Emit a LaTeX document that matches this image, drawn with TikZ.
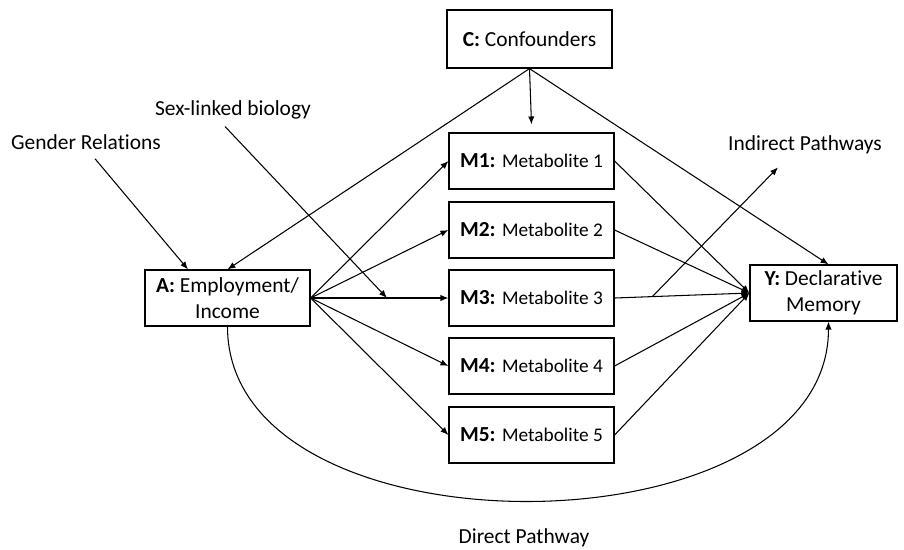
\documentclass[tikz,border=0pt]{standalone}
\usepackage{fontspec}
\setmainfont{Carlito}[Ligatures={NoCommon,NoContextual}]
\usepackage{tikz}
\usetikzlibrary{arrows.meta,calc}
\tikzstyle{caixa}=[rectangle, draw=black, line width=0.7pt, minimum width=3.3cm, minimum height=1.12cm, align=center, inner sep=1pt, font=\fontsize{12.2}{14.5}\selectfont]
\tikzstyle{rotulo}=[font=\fontsize{12.2}{14}\selectfont]
\tikzstyle{seta}=[-{Latex[length=4.5pt,width=3.6pt]}, line width=0.6pt]
\newcommand{\metab}[2]{\textbf{#1:} {\fontsize{11}{12}\selectfont Metabolite\ #2}}

\begin{document}
\begin{tikzpicture}[x=0.02cm,y=-0.02cm]
			\useasboundingbox (0,0) rectangle (904,549);
			\node[caixa, minimum height=1.16cm] (C) at (529.5,39) {\textbf{C:} Confounders};
			\node[caixa] (A) at (227.5,298) {\textbf{A:} Employment/\\Income};
			\node[caixa] (M1) at (531.5,161) {\metab{M1}{1}};
			\node[caixa] (M2) at (531.5,230) {\metab{M2}{2}};
			\node[caixa] (M3) at (531.5,298) {\metab{M3}{3}};
			\node[caixa] (M4) at (531.5,366) {\metab{M4}{4}};
			\node[caixa] (M5) at (531.5,435) {\metab{M5}{5}};
			\node[caixa, minimum width=2.94cm] (Y) at (823.5,293) {\textbf{Y:} Declarat\kern0pt ive\\Memory};
			\node[rotulo] (gen) at (86,142) {Gender Relations};
			\node[rotulo] (sex) at (233,110) {Sex-linked biology};
			\node[rotulo] (ind) at (805,145) {Indirect Pathways};
			\node[rotulo] (dir) at (524,538) {Direct Pathway};
			\coordinate (mod) at ($(A.east)!0.554!(M3.west)$);
			\coordinate (ram) at ($(M3.east)!0.28!(Y.west)$);
			\foreach \i in {1,...,5}{
				\draw[seta] (A.east) -- (M\i.west);
				\draw[seta] (M\i.east) -- (Y.west);
			}
			\draw[seta] (C.south) -- (A.north);
			\draw[seta] (C.south) -- ([yshift=0.16cm]M1.north);
			\draw[seta] (C.south) -- ([xshift=0.1cm]Y.north);
			\draw[seta] ([xshift=0.18cm,yshift=-0.06cm]gen.south) -- ([xshift=-0.79cm]A.north);
			\draw[seta] ([xshift=-0.16cm,yshift=-0.02cm]sex.south) -- (mod);
			\draw[seta] (ram) -- ([xshift=-0.54cm,yshift=-0.14cm]ind.south);
			\draw[seta] (A.south) to[out=-90,in=-90] ([xshift=0.1cm]Y.south);
		\end{tikzpicture}
\end{document}
